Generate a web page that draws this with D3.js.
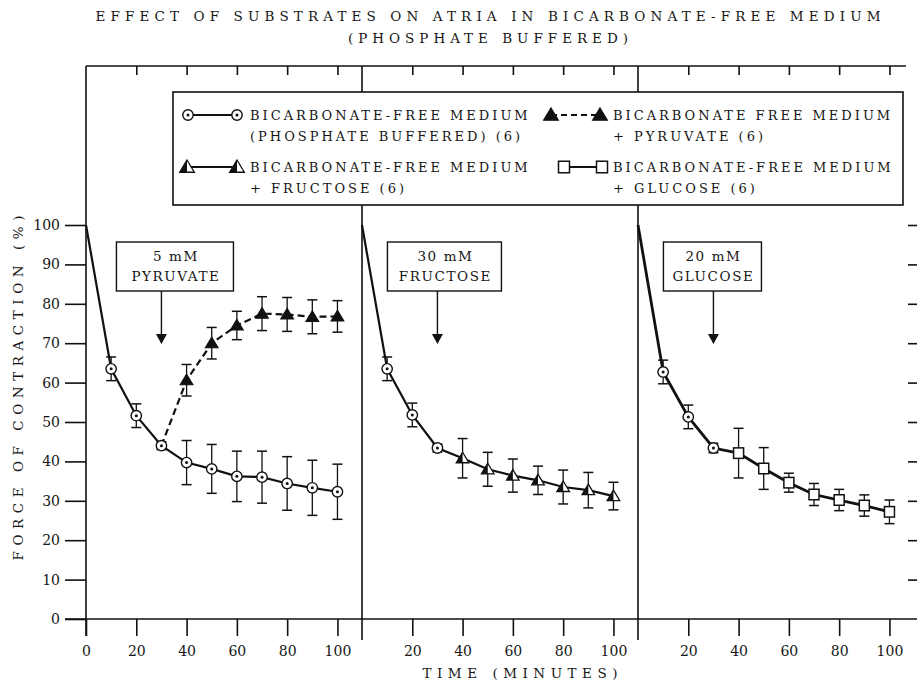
<!DOCTYPE html>
<html>
<head>
<meta charset="utf-8">
<title>Effect of substrates on atria</title>
<script src="https://d3js.org/d3.v7.min.js"></script>
<style>
  body { margin: 0; background: #fff; }
  text { font-family: "DejaVu Serif", "Liberation Serif", serif; fill: #151515; }
</style>
</head>
<body>
<svg width="917" height="683"></svg>
<script>
// ---- data ----
const timeAll = [0, 10, 20, 30, 40, 50, 60, 70, 80, 90, 100];
const timeEarly = [0, 10, 20, 30];
const timeLate = [40, 50, 60, 70, 80, 90, 100];

const control1 = [100, 63.5, 51.6, 44, 39.7, 38.1, 36.2, 36, 34.4, 33.3, 32.3];
const control1Err = [0, 3, 3, 1, 5.6, 6.2, 6.4, 6.6, 6.8, 7, 7];
const control2 = [100, 63.5, 51.8, 43.4];
const control2Err = [0, 3, 3, 1];
const control3 = [100, 62.7, 51.3, 43.4];
const control3Err = [0, 3, 3, 1.2];

const pyruvate = [60.6, 70, 74.5, 77.5, 77.3, 76.7, 76.8];
const pyruvateErr = [4, 4, 3.6, 4.3, 4.3, 4.3, 4];
const fructose = [40.8, 38, 36.4, 35.2, 33.5, 32.7, 31.2];
const fructoseErr = [5, 4.3, 4.2, 3.6, 4.3, 4.5, 3.5];
const glucose = [42.1, 38.2, 34.6, 31.6, 30.2, 28.8, 27.2];
const glucoseErr = [6.3, 5.3, 2.4, 2.8, 2.7, 2.7, 3];

const yTicks = [0, 10, 20, 30, 40, 50, 60, 70, 80, 90, 100];
const xTicksFirst = [0, 20, 40, 60, 80, 100];
const xTicksOther = [20, 40, 60, 80, 100];
const addedAt = 30;
const substrateLabels = [["5 mM", "PYRUVATE"], ["30 mM", "FRUCTOSE"], ["20 mM", "GLUCOSE"]];
const legendLabels = [
  ["BICARBONATE-FREE MEDIUM", "(PHOSPHATE BUFFERED) (6)"],
  ["BICARBONATE FREE MEDIUM", "+ PYRUVATE (6)"],
  ["BICARBONATE-FREE MEDIUM", "+ FRUCTOSE (6)"],
  ["BICARBONATE-FREE MEDIUM", "+ GLUCOSE (6)"]
];

// ---- layout ----
const svg = d3.select("svg");
const frameTop = 66, axisY = 619, rightEdge = 917;
const panelStart = [86, 362, 638];
const panelW = 276.6;
const y = d3.scaleLinear().domain([0, 100]).range([axisY, 225]);
const xs = panelStart.map(p => d3.scaleLinear().domain([0, 110]).range([p, p + panelW]));
const ink = "#111";

// titles
svg.append("text").attr("x", 488).attr("y", 21).attr("text-anchor", "middle")
  .attr("font-size", 13.5).attr("textLength", 785).attr("lengthAdjust", "spacing")
  .text("EFFECT OF SUBSTRATES ON ATRIA IN BICARBONATE-FREE MEDIUM");
svg.append("text").attr("x", 488).attr("y", 43).attr("text-anchor", "middle")
  .attr("font-size", 13.5).attr("textLength", 280).attr("lengthAdjust", "spacing")
  .text("(PHOSPHATE BUFFERED)");

// frame: top line, left axis, dividers, x axis
svg.append("line").attr("x1", 86).attr("x2", 906).attr("y1", frameTop).attr("y2", frameTop)
  .attr("stroke", ink).attr("stroke-width", 1.6);
svg.append("line").attr("x1", 65).attr("x2", rightEdge).attr("y1", axisY).attr("y2", axisY)
  .attr("stroke", ink).attr("stroke-width", 1.6);
panelStart.forEach((p, i) => {
  svg.append("line").attr("x1", p).attr("x2", p).attr("y1", frameTop)
    .attr("y2", i === 0 ? 636 : 640).attr("stroke", ink).attr("stroke-width", 1.6);
});

// y axis (left) with labels
const yAxis = svg.append("g").attr("transform", `translate(${panelStart[0]},0)`)
  .call(d3.axisLeft(y).tickValues(yTicks).tickSize(21).tickPadding(5));
yAxis.select(".domain").remove();
yAxis.selectAll("line").attr("stroke", ink).attr("stroke-width", 1.6);
yAxis.selectAll("text").attr("font-size", 14).attr("font-family", "DejaVu Serif, serif").attr("fill", "#151515");

// right-side ticks
const yRight = svg.append("g").attr("transform", `translate(${rightEdge},0)`)
  .call(d3.axisLeft(y).tickValues(yTicks.slice(1)).tickSize(9).tickFormat(""));
yRight.select(".domain").remove();
yRight.selectAll("line").attr("stroke", ink).attr("stroke-width", 1.6);

// x axes per panel (bottom labels + top ticks)
xs.forEach((x, i) => {
  const vals = i === 0 ? xTicksFirst : xTicksOther;
  const gb = svg.append("g").attr("transform", `translate(0,${axisY})`)
    .call(d3.axisBottom(x).tickValues(vals).tickSize(17).tickPadding(10));
  gb.select(".domain").remove();
  gb.selectAll("line").attr("stroke", ink).attr("stroke-width", 1.6);
  gb.selectAll("text").attr("font-size", 14).attr("font-family", "DejaVu Serif, serif").attr("fill", "#151515");
  const gt = svg.append("g").attr("transform", `translate(0,${frameTop})`)
    .call(d3.axisBottom(x).tickValues(xTicksOther).tickSize(9).tickFormat(""));
  gt.select(".domain").remove();
  gt.selectAll("line").attr("stroke", ink).attr("stroke-width", 1.6);
});

// axis titles
svg.append("text").attr("x", 520).attr("y", 678).attr("text-anchor", "middle")
  .attr("font-size", 13.5).attr("textLength", 195).attr("lengthAdjust", "spacing")
  .text("TIME (MINUTES)");
svg.append("text").attr("transform", "translate(23,388) rotate(-90)").attr("text-anchor", "middle")
  .attr("font-size", 13.5).attr("textLength", 345).attr("lengthAdjust", "spacing")
  .text("FORCE OF CONTRACTION (%)");

// ---- marker helpers ----
function circleMark(g, cx, cy, r) {
  g.append("circle").attr("cx", cx).attr("cy", cy).attr("r", r)
    .attr("fill", "#fff").attr("stroke", ink).attr("stroke-width", 1.4);
  g.append("circle").attr("cx", cx).attr("cy", cy).attr("r", 1.5).attr("fill", ink);
}
function triPath(cx, cy, s) {
  return `M${cx},${cy - s} L${cx + s * 1.05},${cy + s * 0.75} L${cx - s * 1.05},${cy + s * 0.75} Z`;
}
function filledTri(g, cx, cy, s) {
  g.append("path").attr("d", triPath(cx, cy, s)).attr("fill", ink).attr("stroke", ink).attr("stroke-width", 1.2);
}
function halfTri(g, cx, cy, s) {
  g.append("path").attr("d", triPath(cx, cy, s)).attr("fill", "#fff").attr("stroke", ink).attr("stroke-width", 1.3);
  g.append("path").attr("d", `M${cx},${cy - s} L${cx},${cy + s * 0.75} L${cx - s * 1.05},${cy + s * 0.75} Z`)
    .attr("fill", ink);
}
function squareMark(g, cx, cy, s) {
  g.append("rect").attr("x", cx - s).attr("y", cy - s * 1.05).attr("width", 2 * s).attr("height", 2.1 * s)
    .attr("fill", "#fff").attr("stroke", ink).attr("stroke-width", 1.5);
}
function errorBars(g, x, ts, vals, errs) {
  ts.forEach((t, i) => {
    if (!errs[i]) return;
    const cx = x(t), y1 = y(vals[i] + errs[i]), y2 = y(vals[i] - errs[i]);
    g.append("line").attr("x1", cx).attr("x2", cx).attr("y1", y1).attr("y2", y2).attr("stroke", ink).attr("stroke-width", 1.3);
    [y1, y2].forEach(yy => g.append("line").attr("x1", cx - 5).attr("x2", cx + 5).attr("y1", yy).attr("y2", yy)
      .attr("stroke", ink).attr("stroke-width", 1.5));
  });
}
const line = d3.line().x(d => d[0]).y(d => d[1]);

// ---- panel contents ----
const plot = svg.append("g");
const lateSeries = [
  { vals: pyruvate, errs: pyruvateErr, mark: filledTri, dash: "7,4" },
  { vals: fructose, errs: fructoseErr, mark: halfTri, dash: null },
  { vals: glucose, errs: glucoseErr, mark: squareMark, dash: null }
];
const controls = [[control1, control1Err, timeAll], [control2, control2Err, timeEarly], [control3, control3Err, timeEarly]];

xs.forEach((x, i) => {
  const [cv, ce, ct] = controls[i];
  const s = lateSeries[i];
  const ctrlPts = ct.map((t, k) => [x(t), y(cv[k])]);
  const joinPt = [x(timeEarly[3]), y(cv[3])];
  const latePts = [joinPt].concat(timeLate.map((t, k) => [x(t), y(s.vals[k])]));

  if (i === 0) {
    plot.append("path").attr("d", line(latePts)).attr("fill", "none").attr("stroke", ink)
      .attr("stroke-width", 2.2).attr("stroke-dasharray", s.dash);
    plot.append("path").attr("d", line(ctrlPts)).attr("fill", "none").attr("stroke", ink).attr("stroke-width", 2.2);
  } else {
    plot.append("path").attr("d", line(ctrlPts.concat(latePts.slice(1)))).attr("fill", "none")
      .attr("stroke", ink).attr("stroke-width", i === 2 ? 2.8 : 2.2);
  }

  errorBars(plot, x, ct, cv, ce);
  errorBars(plot, x, timeLate, s.vals, s.errs);
  ct.forEach((t, k) => { if (t > 0) circleMark(plot, x(t), y(cv[k]), 5.2); });
  timeLate.forEach((t, k) => s.mark(plot, x(t), y(s.vals[k]), i === 2 ? 5 : 6));

  // substrate box and arrow
  const ax = x(addedAt);
  const bw = i === 0 ? 117 : (i === 1 ? 114 : 98);
  const bx = i === 0 ? ax - 45 : ax - 50;
  const by = 242, bh = 49;
  plot.append("rect").attr("x", bx).attr("y", by).attr("width", bw).attr("height", bh)
    .attr("fill", "#fff").attr("stroke", ink).attr("stroke-width", 1.4);
  substrateLabels[i].forEach((t, k) => {
    plot.append("text").attr("x", bx + bw / 2 + 1).attr("y", by + 19 + k * 20).attr("text-anchor", "middle")
      .attr("font-size", 13.5).attr("letter-spacing", 1.6).text(t);
  });
  plot.append("line").attr("x1", ax).attr("x2", ax).attr("y1", by + bh).attr("y2", 336)
    .attr("stroke", ink).attr("stroke-width", 1.4);
  plot.append("path").attr("d", `M${ax - 5.5},334 L${ax + 5.5},334 L${ax},344 Z`).attr("fill", ink);
});

// ---- legend ----
const lg = svg.append("g");
lg.append("rect").attr("x", 173).attr("y", 92).attr("width", 730).attr("height", 113)
  .attr("fill", "#fff").attr("stroke", ink).attr("stroke-width", 1.6);
const legendPos = [[188, 237, 115], [551, 600, 115], [187, 237, 167], [564, 602, 167]];
const legendMarks = [
  (g, cx, cy) => circleMark(g, cx, cy, 5.2),
  (g, cx, cy) => filledTri(g, cx, cy, 7),
  (g, cx, cy) => halfTri(g, cx, cy, 7),
  (g, cx, cy) => squareMark(g, cx, cy, 5.5)
];
legendPos.forEach(([lx1, lx2, ly], i) => {
  lg.append("line").attr("x1", lx1).attr("x2", lx2).attr("y1", ly).attr("y2", ly)
    .attr("stroke", ink).attr("stroke-width", 2.2).attr("stroke-dasharray", i === 1 ? "6,4" : null);
  legendMarks[i](lg, lx1, ly);
  legendMarks[i](lg, lx2, ly);
  legendLabels[i].forEach((t, k) => {
    lg.append("text").attr("x", i % 2 === 0 ? 250 : 613).attr("y", ly + 5 + k * 21)
      .attr("font-size", 13).attr("letter-spacing", 3).text(t);
  });
});
</script>
</body>
</html>
